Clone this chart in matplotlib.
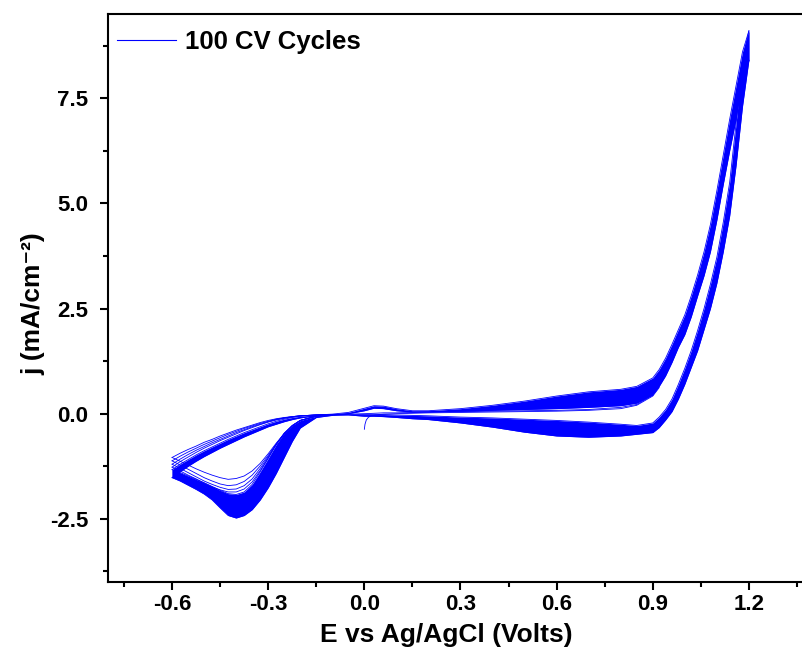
import matplotlib as mpl
mpl.use('Agg')
import matplotlib.pyplot as plt
from matplotlib.lines import Line2D
from matplotlib.ticker import MultipleLocator, FormatStrFormatter

mpl.rcParams['font.family'] = ['Liberation Sans', 'DejaVu Sans']
mpl.rcParams['font.weight'] = 'bold'
mpl.rcParams['axes.unicode_minus'] = False

# potential grid (V vs Ag/AgCl)
E = [-0.6, -0.575, -0.55, -0.525, -0.5, -0.475, -0.45, -0.425, -0.4, -0.375,
     -0.35, -0.325, -0.3, -0.275, -0.25, -0.225, -0.2, -0.15, -0.1, -0.05,
     0.0, 0.03, 0.06, 0.1, 0.15, 0.2, 0.3, 0.4, 0.5, 0.6,
     0.7, 0.8, 0.85, 0.9, 0.92, 0.94, 0.96, 0.98, 1.0, 1.02,
     1.04, 1.06, 1.08, 1.1, 1.12, 1.14, 1.16, 1.18, 1.2]

# envelope of the dense cycles, positive-going sweep (mA/cm2)
ano_lo = [-1.52, -1.38, -1.25, -1.13, -1.02, -0.92, -0.82, -0.73, -0.64, -0.55,
          -0.47, -0.39, -0.31, -0.25, -0.19, -0.14, -0.10, -0.05, -0.03, 0.0,
          0.07, 0.13, 0.12, 0.07, 0.04, 0.04, 0.06, 0.08, 0.10, 0.12,
          0.15, 0.19, 0.25, 0.45, 0.65, 0.90, 1.22, 1.58, 1.88, 2.30,
          2.80, 3.28, 3.85, 4.60, 5.45, 6.25, 7.00, 7.95, 8.40]
ano_hi = [-1.33, -1.20, -1.09, -0.98, -0.88, -0.79, -0.70, -0.61, -0.53, -0.45,
          -0.38, -0.31, -0.24, -0.18, -0.13, -0.09, -0.06, -0.03, -0.01, 0.03,
          0.13, 0.19, 0.18, 0.12, 0.07, 0.07, 0.12, 0.20, 0.30, 0.42,
          0.52, 0.58, 0.65, 0.85, 1.05, 1.32, 1.65, 2.00, 2.35, 2.80,
          3.30, 3.85, 4.50, 5.30, 6.15, 7.00, 7.80, 8.60, 9.10]

# envelope of the dense cycles, negative-going sweep
cat_lo = [-1.52, -1.60, -1.70, -1.80, -1.91, -2.05, -2.24, -2.42, -2.48, -2.42,
          -2.28, -2.05, -1.76, -1.42, -1.04, -0.66, -0.34, -0.09, -0.04, -0.03,
          -0.06, -0.06, -0.07, -0.09, -0.12, -0.14, -0.22, -0.32, -0.44, -0.53,
          -0.56, -0.53, -0.49, -0.45, -0.33, -0.15, 0.05, 0.35, 0.70, 1.10,
          1.50, 2.00, 2.50, 3.10, 3.85, 4.70, 5.90, 7.30, 8.40]
cat_hi = [-1.33, -1.40, -1.48, -1.56, -1.64, -1.73, -1.82, -1.90, -1.92, -1.86,
          -1.68, -1.38, -1.06, -0.73, -0.46, -0.28, -0.16, -0.06, -0.03, -0.02,
          -0.02, -0.02, -0.02, -0.03, -0.04, -0.05, -0.08, -0.10, -0.13, -0.16,
          -0.20, -0.25, -0.28, -0.22, -0.08, 0.10, 0.35, 0.70, 1.08, 1.50,
          1.98, 2.50, 3.08, 3.72, 4.55, 5.50, 6.90, 8.40, 9.10]

# first cycles, resolved as separate lines below 0 V
E_neg = [-0.6, -0.575, -0.55, -0.525, -0.5, -0.475, -0.45, -0.425, -0.4, -0.375,
         -0.35, -0.325, -0.3, -0.275, -0.25, -0.225, -0.2, -0.15, -0.1]
early_cat = [
    [-1.04, -1.13, -1.22, -1.31, -1.39, -1.46, -1.52, -1.56, -1.54, -1.48,
     -1.36, -1.18, -0.95, -0.70, -0.47, -0.29, -0.16, -0.06, -0.03],
    [-1.12, -1.22, -1.32, -1.42, -1.52, -1.60, -1.67, -1.71, -1.69, -1.61,
     -1.46, -1.24, -0.99, -0.72, -0.48, -0.29, -0.16, -0.06, -0.03],
    [-1.20, -1.30, -1.40, -1.50, -1.60, -1.68, -1.75, -1.80, -1.79, -1.71,
     -1.55, -1.30, -1.02, -0.73, -0.48, -0.29, -0.16, -0.06, -0.03],
    [-1.27, -1.36, -1.46, -1.55, -1.65, -1.74, -1.81, -1.86, -1.86, -1.79,
     -1.62, -1.35, -1.05, -0.73, -0.47, -0.28, -0.16, -0.06, -0.03],
]
early_ano = [
    [-1.04, -0.94, -0.85, -0.77, -0.68, -0.61, -0.53, -0.46, -0.39, -0.33,
     -0.27, -0.21, -0.16, -0.12, -0.09, -0.07, -0.05, -0.03, -0.02],
    [-1.12, -1.01, -0.91, -0.82, -0.73, -0.65, -0.57, -0.49, -0.42, -0.35,
     -0.29, -0.23, -0.18, -0.13, -0.10, -0.07, -0.05, -0.03, -0.02],
    [-1.20, -1.08, -0.97, -0.87, -0.78, -0.69, -0.61, -0.53, -0.45, -0.38,
     -0.31, -0.25, -0.19, -0.14, -0.10, -0.07, -0.05, -0.03, -0.02],
    [-1.27, -1.14, -1.03, -0.92, -0.82, -0.73, -0.64, -0.56, -0.48, -0.40,
     -0.33, -0.26, -0.20, -0.15, -0.11, -0.08, -0.05, -0.03, -0.02],
]

# start of cycle 1 at open circuit and the first anodic sweeps
E_first = [0.0, 0.002, 0.006, 0.012, 0.02, 0.035, 0.06, 0.1, 0.15, 0.2,
           0.3, 0.4, 0.5, 0.6, 0.7, 0.8, 0.85, 0.9, 0.92]
first_ano = [-0.37, -0.25, -0.15, -0.09, -0.05, -0.03, -0.01, 0.0, 0.01, 0.02,
             0.03, 0.04, 0.05, 0.06, 0.08, 0.12, 0.20, 0.42, 0.62]
E_second = [-0.1, -0.05, 0.0, 0.03, 0.06, 0.1, 0.15, 0.2, 0.3, 0.4, 0.5, 0.6,
            0.7, 0.8, 0.85, 0.9]
second_ano = [-0.02, -0.01, 0.0, 0.01, 0.02, 0.02, 0.03, 0.04, 0.05, 0.06, 0.07,
              0.08, 0.10, 0.15, 0.22, 0.44]

blue = '#0000ff'

fig = plt.figure(figsize=(8.03, 6.59), dpi=100)
ax = fig.add_axes([108 / 803, 1 - 582 / 659, 705 / 803, 568 / 659])

ax.fill_between(E, ano_lo, ano_hi, color=blue, lw=0)
ax.fill_between(E, cat_lo, cat_hi, color=blue, lw=0)
for arr in (ano_lo, ano_hi, cat_lo, cat_hi):
    ax.plot(E, arr, color=blue, lw=0.6)
for c, a in zip(early_cat, early_ano):
    ax.plot(E_neg, c, color=blue, lw=0.6)
    ax.plot(E_neg, a, color=blue, lw=0.6)
ax.plot(E_first, first_ano, color=blue, lw=0.6)
ax.plot(E_second, second_ano, color=blue, lw=0.6)

ax.set_xlim(-0.8, 1.4)
ax.set_ylim(-4, 9.5)
ax.xaxis.set_major_locator(MultipleLocator(0.3))
ax.xaxis.set_minor_locator(MultipleLocator(0.15))
ax.yaxis.set_major_locator(MultipleLocator(2.5))
ax.yaxis.set_minor_locator(MultipleLocator(1.25))
ax.xaxis.set_major_formatter(FormatStrFormatter('%.1f'))
ax.yaxis.set_major_formatter(FormatStrFormatter('%.1f'))

for s in ax.spines.values():
    s.set_linewidth(1.5)
ax.tick_params(which='major', direction='out', length=6, width=1.5, labelsize=16)
ax.tick_params(which='minor', direction='out', length=3.5, width=1.5)
ax.tick_params(axis='x', which='major', pad=3)
ax.tick_params(axis='y', which='major', pad=8)
for lab in ax.get_xticklabels() + ax.get_yticklabels():
    lab.set_fontweight('bold')

ax.set_xlabel('E vs Ag/AgCl (Volts)', fontsize=19, fontweight='bold')
ax.set_ylabel('j (mA/cm\u207b\u00b2)', fontsize=19, fontweight='bold')
ax.xaxis.set_label_coords((446 - 108) / 705, -0.072)
ax.yaxis.set_label_coords(-(108 - 45) / 705, 0.49)

handle = Line2D([], [], color=blue, lw=0.8)
ax.legend([handle], ['100 CV Cycles'], loc='upper left', frameon=False,
          bbox_to_anchor=(9 / 705, 1 - 16 / 568), borderaxespad=0, borderpad=0,
          handlelength=2.3, handletextpad=0.35,
          prop={'size': 18.5, 'weight': 'bold'})

fig.savefig('out.png', dpi=100)
